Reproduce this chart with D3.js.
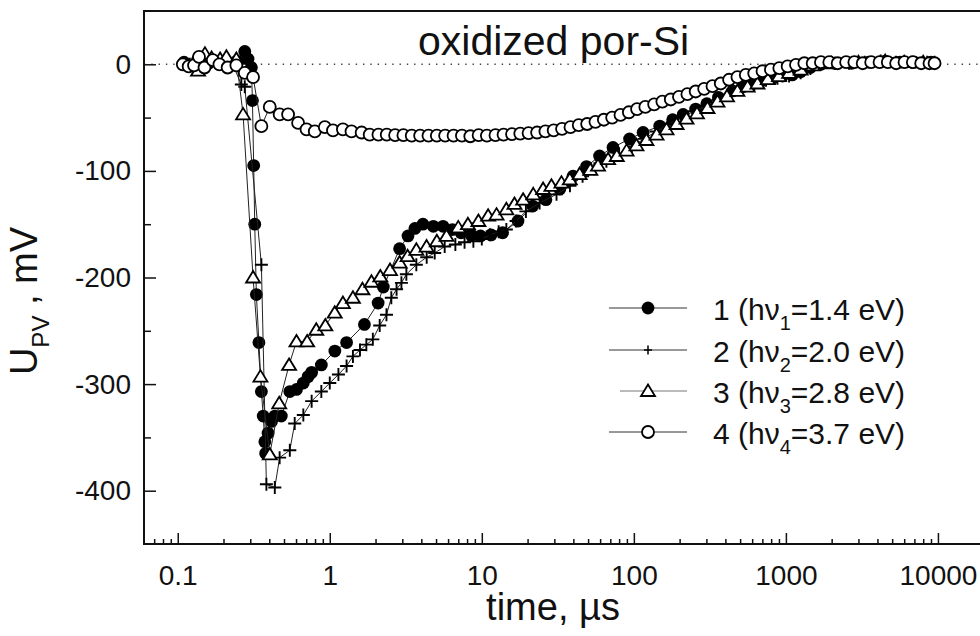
<!DOCTYPE html>
<html>
<head>
<meta charset="utf-8">
<script src="https://cdn.jsdelivr.net/npm/d3@7"></script>
<style>
  body { margin: 0; background: #fff; }
  svg text { font-family: "Liberation Sans", Arial, Helvetica, sans-serif; fill: #111; }
</style>
</head>
<body>
<div id="chart"></div>
<script>
// series 1: filled circles, hv = 1.4 eV  [time us, mV]
var series1 = [[0.11,2],[0.135,4],[0.16,1],[0.2,2],[0.245,3],[0.276,12],[0.29,5],[0.305,-3],[0.31,-34],[0.316,-95],
  [0.321,-150],[0.329,-216],[0.342,-261],[0.355,-307],[0.365,-330],[0.374,-354],[0.379,-365],[0.393,-346],[0.414,-335],
  [0.435,-330],[0.48,-330],[0.546,-307],[0.604,-305],[0.67,-299],[0.72,-293],[0.76,-289],[0.88,-282],[1.08,-269],
  [1.29,-261],[1.69,-244],[2.08,-224],[2.25,-209],[2.88,-173],[3.27,-161],[3.63,-154],[4.1,-150],[4.8,-152],[5.56,-152],
  [6.4,-155],[7.3,-158],[8.5,-160],[9.8,-161],[11.5,-160],[13.7,-158],[17.3,-147],[21.6,-133],[26.4,-127],[32.6,-117],
  [39.8,-105],[48.8,-96],[59.5,-86],[72.9,-78],[93.7,-70],[115,-64],[148,-58],[180,-52],[211,-47],[255,-42],[302,-37],
  [360,-31],[446,-25],[520,-21],[600,-18],[700,-15],[820,-13],[950,-11],[1100,-10],[1250,-7],[1450,-3],[1700,0],
  [2100,1],[2700,1],[3500,2],[4500,3],[5600,2],[7000,2],[9000,2]]

// series 2: crosses, hv = 2.0 eV
var series2 = [[0.12,0],[0.155,2],[0.19,1],[0.23,0],[0.262,-19],[0.276,-21],[0.355,-188],[0.383,-394],[0.435,-397],
  [0.468,-369],[0.546,-362],[0.588,-337],[0.67,-329],[0.76,-316],[0.88,-307],[1.0,-299],[1.14,-291],[1.29,-283],
  [1.42,-274],[1.58,-268],[1.74,-263],[1.92,-258],[2.13,-245],[2.36,-235],[2.54,-219],[2.75,-211],[2.96,-205],
  [3.19,-197],[3.71,-188],[4.34,-181],[4.9,-177],[5.7,-171],[6.7,-169],[7.7,-167],[8.8,-166],[10.0,-164],[11.3,-160],
  [12.9,-157],[14.5,-155],[16.8,-147],[19.5,-138],[24,-130],[31,-122],[38,-114],[46,-105],[55,-98],[66,-91],[80,-84],
  [97,-77],[117,-70],[140,-63],[170,-56],[205,-50],[250,-44],[300,-39],[360,-33],[430,-28],[520,-23],[620,-19],
  [740,-15],[880,-13],[1050,-11],[1250,-8],[1450,-4],[1700,0],[2100,1],[2600,1],[3300,2],[4200,3],[5300,2],[6700,2],
  [8500,2],[9500,2]]

// series 3: open triangles, hv = 2.8 eV
var series3 = [[0.136,-6],[0.151,10],[0.167,6],[0.19,5],[0.209,7],[0.243,5],[0.269,-47],[0.313,-200],[0.35,-293],
  [0.403,-366],[0.465,-318],[0.54,-282],[0.604,-260],[0.71,-260],[0.815,-249],[0.935,-245],[1.078,-233],[1.22,-224],
  [1.42,-219],[1.64,-211],[1.88,-204],[2.15,-199],[2.49,-193],[2.88,-186],[3.25,-180],[3.71,-174],[4.33,-171],
  [5.06,-166],[5.86,-161],[7.0,-153],[8.1,-150],[9.5,-147],[11.0,-142],[12.5,-141],[14.5,-136],[16.4,-131],[18.7,-127],
  [21.8,-122],[25.3,-117],[28.7,-114],[33.4,-111],[37.9,-108],[44,-103],[51.7,-99],[58.1,-95],[67.7,-89],[77.2,-86],
  [89.6,-81],[104,-76],[121,-71],[141,-66],[164,-61],[191,-56],[222,-51],[260,-46],[305,-41],[355,-35],[410,-30],
  [480,-25],[560,-21],[650,-18],[760,-14],[900,-11],[1050,-8],[1250,-5],[1500,-1],[2000,1],[3000,2],[4500,3],
  [6000,2],[8000,2]]

// series 4: open circles, hv = 3.7 eV
var series4 = [[0.108,0],[0.118,-2],[0.128,-1],[0.138,7],[0.15,-3],[0.17,4],[0.188,0],[0.213,-3],[0.243,-1],[0.276,-8],
  [0.313,-12],[0.355,-58],[0.403,-40],[0.468,-47],[0.532,-47],[0.619,-55],[0.703,-61],[0.797,-63],[0.928,-59],
  [1.05,-62],[1.22,-61],[1.39,-63],[1.62,-64],[1.83,-66],[2.09,-66],[2.37,-66],[2.69,-66.5],[3.05,-66.5],[3.46,-67],
  [3.93,-67],[4.46,-67],[5.06,-67],[5.74,-67],[6.52,-67],[7.4,-67],[8.4,-67.5],[9.53,-66.5],[10.8,-67],[12.3,-66.5],
  [13.9,-66],[15.8,-65.5],[17.9,-65],[20.3,-64.5],[23.1,-64],[26.2,-63],[29.7,-62],[33.7,-60.5],[38.3,-59],[43.4,-57],
  [49.3,-56],[55.9,-54],[63.5,-52],[72,-50],[81.7,-47.5],[92.7,-45],[105,-42],[119,-40],[136,-37.5],[154,-35],
  [175,-33],[198,-30.5],[225,-28],[255,-25.5],[290,-23],[329,-20.5],[373,-18],[423,-14.5],[480,-12],[545,-10],
  [619,-8.5],[702,-6.5],[797,-5],[905,-3.5],[1027,-2],[1165,-0.5],[1322,1],[1500,1],[1700,2],[1930,2],[2190,1],
  [2490,2],[2820,2],[3200,1],[3640,2],[4130,2],[4680,2],[5310,1],[6030,2],[6840,2],[7760,1],[8800,1],[9500,1]]

var xMajor = [0.1, 1, 10, 100, 1000, 10000]
var xLabels = ['0.1', '1', '10', '100', '1000', '10000']
var yMajor = [0, -100, -200, -300, -400]
var yLabels = ['0', '-100', '-200', '-300', '-400']
var yMinor = [-50, -150, -250, -350]
var legendNames = ['1', '2', '3', '4']
var legendEnergies = ['1.4', '2.0', '2.8', '3.7']

var width = 980, height = 636
var xLeft = 144, xRight = 990, yTop = 11, yBottom = 544

var svg = d3.select('#chart').append('svg')
    .attr('width', width)
    .attr('height', height)

var x = d3.scaleLog().domain([0.06, 22000]).range([xLeft, xRight])
var y = d3.scaleLinear().domain([-450, 50]).range([yBottom, yTop])

// minor ticks on log axis: 2..9 of each decade
var xMinor = []
for (var e = -2; e <= 4; e++) {
    for (var m = 2; m <= 9; m++) {
        var v = m * Math.pow(10, e)
        if (v > 0.06 && v < 22000 && xMajor.indexOf(v) < 0) xMinor.push(v)
    }
}

// zero reference line
svg.append('line')
    .attr('x1', xLeft).attr('x2', width)
    .attr('y1', y(0)).attr('y2', y(0))
    .attr('stroke', '#444')
    .attr('stroke-width', 1.4)
    .attr('stroke-dasharray', '1.4,5.9')

// x axis
svg.append('g')
    .attr('transform', 'translate(0,' + yBottom + ')')
    .call(d3.axisBottom(x).tickValues(xMinor).tickSizeInner(-5).tickSizeOuter(0).tickFormat(''))
    .call(g => g.select('.domain').remove())
svg.append('g')
    .attr('class', 'x axis')
    .attr('transform', 'translate(0,' + yBottom + ')')
    .call(d3.axisBottom(x).tickValues(xMajor).tickSizeInner(-11).tickSizeOuter(0).tickPadding(21)
        .tickFormat((d, i) => xLabels[i]))
    .call(g => g.select('.domain').remove())
    .selectAll('text')
    .style('font-size', '28px')

// y axis
svg.append('g')
    .attr('transform', 'translate(' + xLeft + ',0)')
    .call(d3.axisLeft(y).tickValues(yMinor).tickSizeInner(-7).tickSizeOuter(0).tickFormat(''))
    .call(g => g.select('.domain').remove())
svg.append('g')
    .attr('class', 'y axis')
    .attr('transform', 'translate(' + xLeft + ',0)')
    .call(d3.axisLeft(y).tickValues(yMajor).tickSizeInner(-12).tickSizeOuter(0).tickPadding(13)
        .tickFormat((d, i) => yLabels[i]))
    .call(g => g.select('.domain').remove())
    .selectAll('text')
    .style('font-size', '28px')

svg.selectAll('.tick line').attr('stroke', '#111').attr('stroke-width', 1.5)

// frame
svg.append('path')
    .attr('d', 'M' + width + ',' + yTop + 'H' + xLeft + 'V' + yBottom + 'H' + width)
    .attr('fill', 'none')
    .attr('stroke', '#111')
    .attr('stroke-width', 2)

// marker shapes
var markers = [
    { data: series1, draw: (g) => g.append('circle').attr('r', 6.4).attr('fill', '#000') },
    { data: series2, draw: (g) => g.append('path').attr('d', 'M-6.5,0H6.5M0,-6.5V6.5').attr('stroke', '#000').attr('stroke-width', 1.9) },
    { data: series3, draw: (g) => g.append('path').attr('d', 'M0,-6.5L7,5L-7,5Z').attr('fill', '#fff').attr('stroke', '#000').attr('stroke-width', 1.8) },
    { data: series4, draw: (g) => g.append('circle').attr('r', 6).attr('fill', '#fff').attr('stroke', '#000').attr('stroke-width', 1.8) }
]

var line = d3.line().x(d => x(d[0])).y(d => y(d[1]))

markers.forEach((s, i) => {
    var g = svg.append('g').attr('class', 'set' + i)
    g.append('path')
        .attr('d', line(s.data))
        .attr('fill', 'none')
        .attr('stroke', '#222')
        .attr('stroke-width', 1)
    g.selectAll('g.pt')
        .data(s.data)
        .enter().append('g')
        .attr('class', 'pt')
        .attr('transform', d => 'translate(' + x(d[0]) + ',' + y(d[1]) + ')')
        .each(function () { s.draw(d3.select(this)) })
})

// title
svg.append('text')
    .attr('x', 418).attr('y', 55)
    .style('font-size', '41px')
    .text('oxidized por-Si')

// axis titles
svg.append('text')
    .attr('x', 553).attr('y', 620)
    .attr('text-anchor', 'middle')
    .style('font-size', '38px')
    .text('time, \u00b5s')

var yt = svg.append('text')
    .attr('transform', 'translate(37,301) rotate(-90)')
    .attr('text-anchor', 'middle')
    .style('font-size', '38px')
yt.append('tspan').text('U')
yt.append('tspan').attr('dy', 12).style('font-size', '24px').text('PV')
yt.append('tspan').attr('dy', -12).text(' , mV')

// legend
var legendY = [308, 350, 391, 432]
var legend = svg.append('g').attr('class', 'legend')
markers.forEach((s, i) => {
    var row = legend.append('g').attr('transform', 'translate(0,' + legendY[i] + ')')
    row.append('line')
        .attr('x1', i == 2 ? 620 : 609).attr('x2', 687)
        .attr('stroke', i == 2 ? '#777' : '#333')
        .attr('stroke-width', 1)
    var mk = row.append('g').attr('transform', 'translate(648,0)')
    s.draw(mk)
    if (i == 1) mk.select('path').attr('d', 'M-4,0H4M0,-4.5V4.5').attr('stroke-width', 1.5)
    var t = row.append('text')
        .attr('x', 713).attr('y', 12)
        .style('font-size', '30px')
    t.append('tspan').text(legendNames[i] + ' (h\u03bd')
    t.append('tspan').attr('dy', 10).style('font-size', '20px').text(legendNames[i])
    t.append('tspan').attr('dy', -10).text('=' + legendEnergies[i] + ' eV)')
})
</script>
</body>
</html>
